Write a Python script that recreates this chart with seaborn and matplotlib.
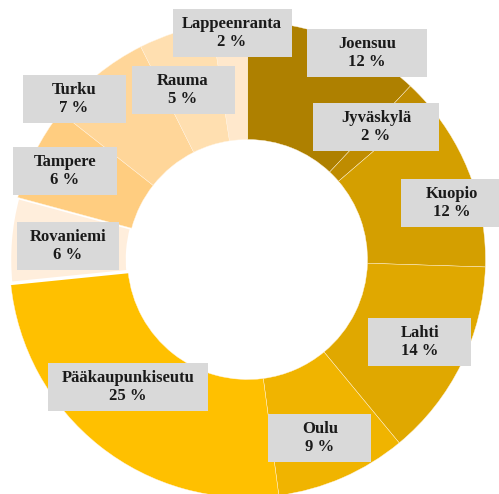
import matplotlib
matplotlib.use("Agg")
import matplotlib.pyplot as plt
import seaborn as sns
from matplotlib.patches import Rectangle

# ---- data ----
cities = ["Joensuu", "Jyväskylä", "Kuopio", "Lahti", "Oulu", "Pääkaupunkiseutu",
          "Rovaniemi", "Tampere", "Turku", "Rauma", "Lappeenranta"]
shares = [12.0, 1.7, 11.8, 13.5, 8.9, 25.5, 5.8, 6.4, 7.0, 5.0, 2.4]
shown_pct = [12, 2, 12, 14, 9, 25, 6, 6, 7, 5, 2]

# ---- styles / layout ----
colors = ["#AE8000", "#BF8C00", "#D49F00", "#E0A800", "#F0B400", "#FFC000",
          "#FFEEDC", "#FFCD80", "#FFD699", "#FFDFB0", "#FFE8CC"]
label_centers_px = [(367, 53), (376, 127), (452, 203), (420, 342), (320, 438),
                    (128, 387), (68, 246), (65, 171), (74, 99), (183, 90), (232, 33)]
box_widths_px = [120, 126, 103, 103, 103, 159, 102, 103, 103, 103, 119]
box_height_px = 48

W, H = 499, 494
DPI = 100
cx, cy, R = 247.5, 259.5, 238  # pixel center and outer radius
inner_r = 120

sns.set_style("white")
plt.rcParams["font.family"] = ["Liberation Serif", "DejaVu Serif"]

fig = plt.figure(figsize=(W / DPI, H / DPI), dpi=DPI)
ax = fig.add_axes([0, 0, 1, 1])
ax.axis("off")

wedges, _ = ax.pie(shares, colors=colors, startangle=90, counterclock=False,
                   radius=1.0,
                   wedgeprops=dict(width=1 - inner_r / R, edgecolor="#FFF4E0", linewidth=0.3))
# Rovaniemi slice has a visible white border
rov = wedges[cities.index("Rovaniemi")]
rov.set_edgecolor("white")
rov.set_linewidth(2.5)

ax.set_xlim(-cx / R, (W - cx) / R)
ax.set_ylim(-(H - cy) / R, cy / R)
ax.set_aspect("auto")

for name, val, (px, py), bw in zip(cities, shown_pct, label_centers_px, box_widths_px):
    fx, fy = px / W, 1 - py / H
    rect = Rectangle((fx - bw / 2 / W, fy - box_height_px / 2 / H), bw / W, box_height_px / H,
                     transform=fig.transFigure, facecolor="#D9D9D9", edgecolor="none",
                     zorder=5, clip_on=False)
    fig.add_artist(rect)
    fig.text(fx, fy, f"{name}\n{val} %", ha="center", va="center", fontsize=12,
             fontweight="bold", color="#1a1a1a", linespacing=1.15, zorder=6)

fig.savefig("out.png", dpi=DPI)
